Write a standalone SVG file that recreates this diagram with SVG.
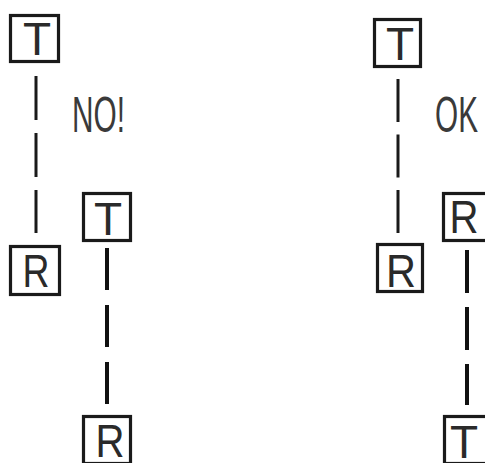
<svg xmlns="http://www.w3.org/2000/svg" width="485" height="463" viewBox="0 0 485 463">
<style>
.box{fill:#fff;stroke:#1a1a1a;stroke-width:3.2}
.lbl{font-family:"Liberation Sans",Arial,sans-serif;font-size:46px;fill:#2a2a2a;text-anchor:middle}
.note{font-family:"Liberation Sans",Arial,sans-serif;font-size:50px;fill:#3a3a3a}
.dash{stroke:#1a1a1a;stroke-width:3;fill:none}
.dash2{stroke:#111;stroke-width:4;fill:none}
</style>
<rect width="485" height="463" fill="#fff"/>
<g id="connectors">
<line class="dash" x1="36" y1="76" x2="36" y2="233" stroke-dasharray="44 13"/>
<line class="dash2" x1="107" y1="248" x2="107" y2="404" stroke-dasharray="42 15"/>
<line class="dash" x1="398" y1="79" x2="398" y2="233" stroke-dasharray="43 12.5"/>
<line class="dash2" x1="467" y1="250" x2="467" y2="405" stroke-dasharray="43 14"/>
</g>
<g id="T1"><rect class="box" x="10.5" y="15.5" width="48" height="46"/><text class="lbl" x="37" y="55">T</text></g>
<g id="R1"><rect class="box" x="10.5" y="246.5" width="49" height="48"/><text class="lbl" x="36" y="287" textLength="27" lengthAdjust="spacingAndGlyphs">R</text></g>
<g id="T2"><rect class="box" x="83.5" y="193.5" width="47" height="47"/><text class="lbl" x="108" y="235">T</text></g>
<g id="R2"><rect class="box" x="83.5" y="416.5" width="47" height="47"/><text class="lbl" x="110" y="457" textLength="29" lengthAdjust="spacingAndGlyphs">R</text></g>
<g id="T3"><rect class="box" x="374.5" y="19.5" width="46" height="47"/><text class="lbl" x="400" y="60">T</text></g>
<g id="R3"><rect class="box" x="377.5" y="244.5" width="45" height="47"/><text class="lbl" x="401" y="287" textLength="30" lengthAdjust="spacingAndGlyphs">R</text></g>
<g id="R4"><rect class="box" x="443.5" y="193.5" width="47" height="47"/><text class="lbl" x="464" y="233" textLength="29" lengthAdjust="spacingAndGlyphs">R</text></g>
<g id="T4"><rect class="box" x="444.5" y="416.5" width="47" height="47"/><text class="lbl" x="464" y="458">T</text></g>
<g id="notes">
<text class="note" x="72" y="132" textLength="53" lengthAdjust="spacingAndGlyphs">NO!</text>
<text class="note" x="435" y="132" font-size="45" textLength="43" lengthAdjust="spacingAndGlyphs">OK</text>
</g>
</svg>
